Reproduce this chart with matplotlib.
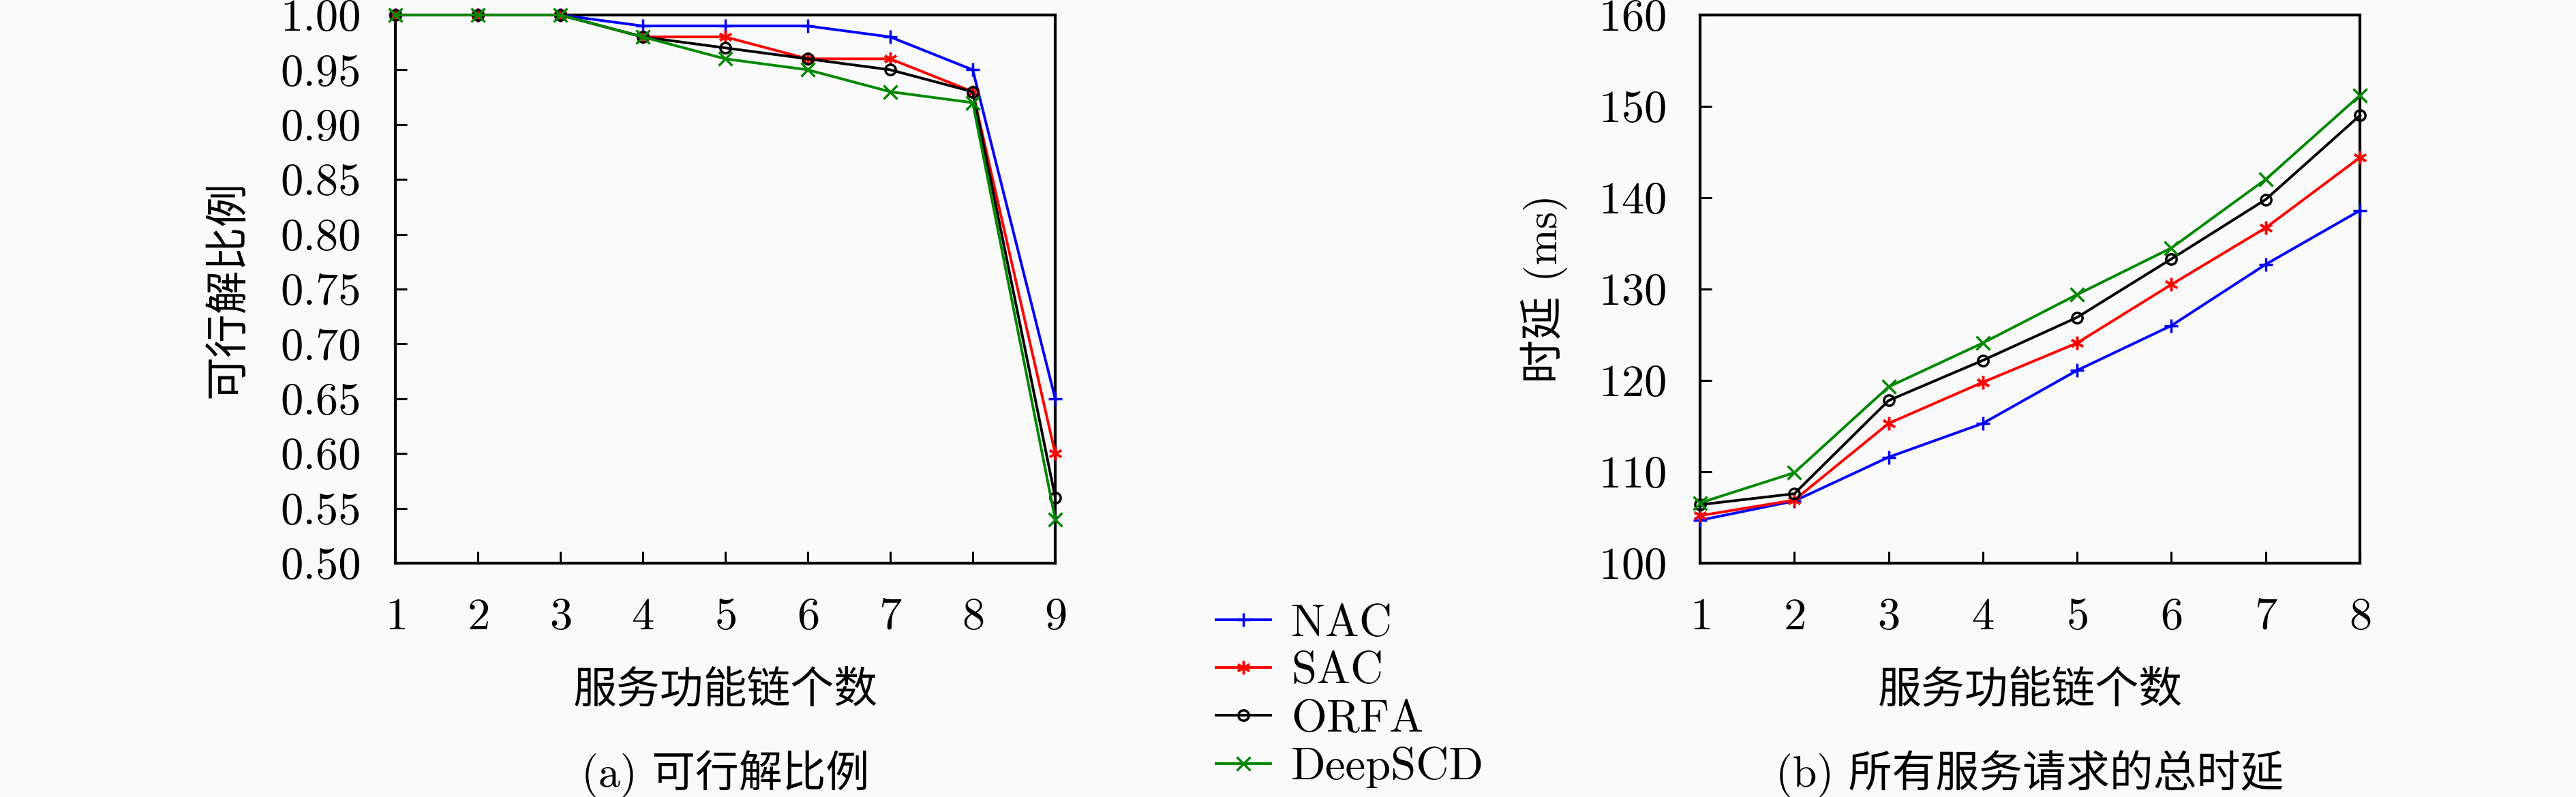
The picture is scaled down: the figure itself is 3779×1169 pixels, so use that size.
import numpy as np
import matplotlib
matplotlib.use("Agg")
import matplotlib.pyplot as plt

plt.rcParams['font.family'] = ['cmr10', 'Noto Sans CJK SC', 'DejaVu Sans']
plt.rcParams['axes.formatter.use_mathtext'] = True
plt.rcParams['axes.unicode_minus'] = False

# data
methods = ["NAC", "SAC", "ORFA", "DeepSCD"]
colors = ["#0000ff", "#ff0000", "#000000", "#008800"]
markers = ["+", (6, 2, 0), "o", "x"]

sfc_a = [1, 2, 3, 4, 5, 6, 7, 8, 9]
ratio_nac = [1.00, 1.00, 1.00, 0.99, 0.99, 0.99, 0.98, 0.95, 0.65]
ratio_sac = [1.00, 1.00, 1.00, 0.98, 0.98, 0.96, 0.96, 0.93, 0.60]
ratio_orfa = [1.00, 1.00, 1.00, 0.98, 0.97, 0.96, 0.95, 0.93, 0.56]
ratio_deepscd = [1.00, 1.00, 1.00, 0.98, 0.96, 0.95, 0.93, 0.92, 0.54]

sfc_b = [1, 2, 3, 4, 5, 6, 7, 8]
delay_nac = [104.7, 106.8, 111.6, 115.3, 121.1, 126.0, 132.7, 138.6]
delay_sac = [105.2, 106.9, 115.3, 119.8, 124.1, 130.5, 136.7, 144.4]
delay_orfa = [106.4, 107.6, 117.8, 122.2, 126.9, 133.3, 139.8, 149.0]
delay_deepscd = [106.6, 109.9, 119.3, 124.1, 129.4, 134.5, 142.0, 151.2]

yticks_a = np.arange(0.50, 1.001, 0.05)
yticks_b = [100, 110, 120, 130, 140, 150, 160]

W, H = 3780, 1169
bg = "#fafafa"
fig = plt.figure(figsize=(W / 100, H / 100), dpi=100, facecolor=bg)

def px_axes(x0, x1, y0, y1):
    return fig.add_axes([x0 / W, 1 - y1 / H, (x1 - x0) / W, (y1 - y0) / H])

ax1 = px_axes(580, 1548, 22, 826)
ax2 = px_axes(2494, 3462, 22, 826)

fs = 48
cjk = 46

def style(ax):
    ax.set_facecolor(bg)
    for s in ax.spines.values():
        s.set_linewidth(3.0)
    ax.tick_params(direction='in', length=12, width=2.2, labelsize=fs,
                   top=False, right=False, pad=36)

def draw(ax, x, series):
    for vals, name, c, m in zip(series, methods, colors, markers):
        ms = 11 if m == "o" else 14
        ax.plot(x, vals, color=c, lw=2.8, marker=m, ms=ms, mew=2.5,
                mfc='none', label=name, clip_on=False, zorder=3)

draw(ax1, sfc_a, [ratio_nac, ratio_sac, ratio_orfa, ratio_deepscd])
style(ax1)
ax1.set_xlim(1, 9)
ax1.set_ylim(0.5, 1.0)
ax1.set_xticks(sfc_a)
ax1.set_yticks(yticks_a)
ax1.set_yticklabels(["%.2f" % v for v in yticks_a])
ax1.set_xlabel("服务功能链个数", fontsize=cjk, va='center')
ax1.xaxis.set_label_coords(0.5, -0.233)
ax1.set_ylabel("可行解比例", fontsize=cjk, va='center')
ax1.yaxis.set_label_coords(-0.252, 0.5)
ax1.text(0.5, -0.384, "(a) 可行解比例", transform=ax1.transAxes,
         ha='center', va='center', fontsize=cjk)

draw(ax2, sfc_b, [delay_nac, delay_sac, delay_orfa, delay_deepscd])
style(ax2)
ax2.set_xlim(1, 8)
ax2.set_ylim(100, 160)
ax2.set_xticks(sfc_b)
ax2.set_yticks(yticks_b)
ax2.set_xlabel("服务功能链个数", fontsize=cjk, va='center')
ax2.xaxis.set_label_coords(0.5, -0.233)
ax2.set_ylabel("时延 (ms)", fontsize=cjk, va='center')
ax2.yaxis.set_label_coords(-0.236, 0.5)
ax2.text(0.5, -0.384, "(b) 所有服务请求的总时延", transform=ax2.transAxes,
         ha='center', va='center', fontsize=cjk)

handles, labels = ax1.get_legend_handles_labels()
fig.legend(handles, labels, loc='center left',
           bbox_to_anchor=(1784 / W, 1 - 1021 / H), frameon=False,
           fontsize=fs, borderpad=0, borderaxespad=0, handlelength=1.2,
           handletextpad=0.45, labelspacing=0.15, numpoints=1)

fig.savefig("out.png", dpi=100, facecolor=bg)
